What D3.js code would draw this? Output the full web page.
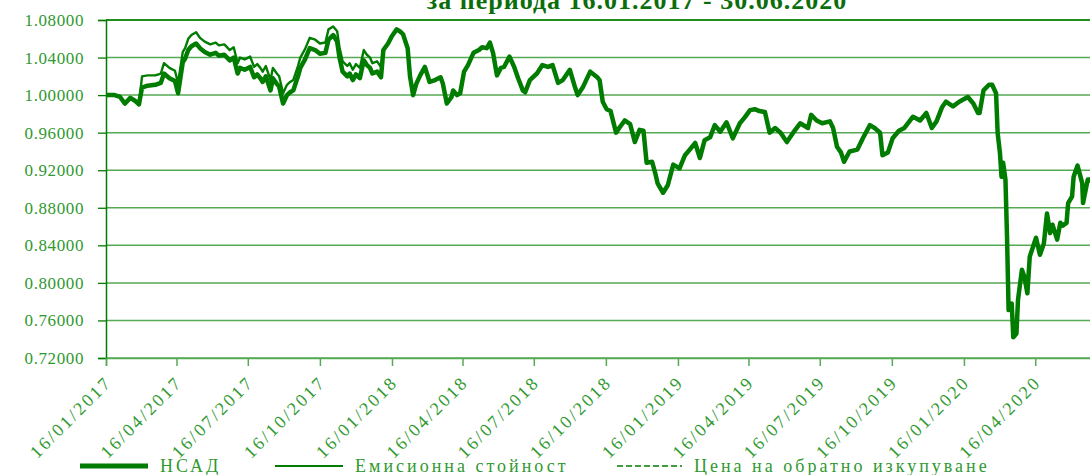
<!DOCTYPE html>
<html>
<head>
<meta charset="utf-8">
<script src="https://cdn.jsdelivr.net/npm/d3@7"></script>
<style>
body { margin: 0; background: #fff; }
svg { display: block; }
</style>
</head>
<body>
<div id="chart"></div>
<script>
// values
var dates = [
 "2017-01-16","2017-01-27","2017-02-03","2017-02-09","2017-02-16","2017-02-22","2017-02-27",
 "2017-03-03","2017-03-10","2017-03-20","2017-03-27","2017-03-31","2017-04-07","2017-04-14","2017-04-18",
 "2017-04-24","2017-04-27","2017-05-01","2017-05-05","2017-05-11","2017-05-16","2017-05-22","2017-05-29",
 "2017-06-05","2017-06-09","2017-06-16","2017-06-23","2017-06-28","2017-07-03","2017-07-06","2017-07-12",
 "2017-07-19","2017-07-24","2017-07-28","2017-08-01","2017-08-04","2017-08-08","2017-08-14","2017-08-17",
 "2017-08-22","2017-08-25","2017-08-30","2017-09-04","2017-09-08","2017-09-12","2017-09-18","2017-09-21",
 "2017-09-27","2017-10-03","2017-10-10","2017-10-16","2017-10-23","2017-10-27","2017-11-02","2017-11-07",
 "2017-11-10","2017-11-14","2017-11-20","2017-11-23","2017-11-27","2017-12-01","2017-12-06","2017-12-11",
 "2017-12-15","2017-12-19","2017-12-22","2017-12-28","2018-01-02",
 "2018-01-05","2018-01-11","2018-01-16","2018-01-22","2018-01-26","2018-01-30","2018-02-05","2018-02-08",
 "2018-02-12","2018-02-16","2018-02-21","2018-02-27","2018-03-05","2018-03-12","2018-03-19","2018-03-22",
 "2018-03-27","2018-04-02","2018-04-04","2018-04-09","2018-04-13","2018-04-18","2018-04-23","2018-04-30",
 "2018-05-07","2018-05-11","2018-05-17","2018-05-21","2018-05-25","2018-05-30","2018-06-04","2018-06-08",
 "2018-06-15","2018-06-21","2018-06-26","2018-07-02","2018-07-05","2018-07-11","2018-07-20","2018-07-27",
 "2018-08-03","2018-08-09","2018-08-16","2018-08-22","2018-08-31","2018-09-06","2018-09-10","2018-09-17",
 "2018-09-26","2018-10-05","2018-10-08","2018-10-12","2018-10-17","2018-10-22","2018-10-29","2018-11-02",
 "2018-11-09","2018-11-16","2018-11-22","2018-11-28","2018-12-03","2018-12-07","2018-12-14","2018-12-18",
 "2018-12-21","2018-12-28","2019-01-03","2019-01-10","2019-01-18","2019-01-25","2019-01-31","2019-02-07",
 "2019-02-13","2019-02-19","2019-02-26","2019-03-04","2019-03-11","2019-03-19","2019-03-27","2019-04-05",
 "2019-04-11","2019-04-18","2019-04-24","2019-04-30","2019-05-07","2019-05-13","2019-05-20","2019-05-27",
 "2019-06-04","2019-06-12","2019-06-21","2019-07-01","2019-07-05","2019-07-12","2019-07-19","2019-07-29",
 "2019-08-02","2019-08-07","2019-08-12","2019-08-16","2019-08-23","2019-09-02","2019-09-09","2019-09-18",
 "2019-09-24","2019-10-01","2019-10-04","2019-10-11","2019-10-17","2019-10-25","2019-11-01","2019-11-12",
 "2019-11-21","2019-11-29","2019-12-06","2019-12-12","2019-12-19","2019-12-24","2020-01-02","2020-01-10",
 "2020-01-21","2020-01-28","2020-02-03","2020-02-05","2020-02-10","2020-02-17","2020-02-21","2020-02-26",
 "2020-02-28","2020-03-02","2020-03-04","2020-03-06","2020-03-09","2020-03-11","2020-03-13","2020-03-17",
 "2020-03-19","2020-03-23","2020-03-25","2020-03-30","2020-04-02","2020-04-06","2020-04-09","2020-04-13",
 "2020-04-17","2020-04-22","2020-04-27","2020-05-01","2020-05-05","2020-05-08","2020-05-14","2020-05-18",
 "2020-05-21","2020-05-26","2020-05-28","2020-06-02","2020-06-04","2020-06-09","2020-06-15","2020-06-16",
 "2020-06-22","2020-06-25","2020-06-30"
];

// НСАД (net asset value per unit)
var nav = [
 1.000,1.000,0.998,0.991,0.997,0.994,0.990,
 1.008,1.010,1.011,1.013,1.023,1.018,1.015,1.002,
 1.035,1.039,1.048,1.052,1.055,1.050,1.046,1.043,
 1.045,1.042,1.043,1.037,1.040,1.023,1.029,1.027,
 1.030,1.019,1.022,1.018,1.014,1.020,1.005,1.018,
 1.012,1.009,0.991,1.000,1.003,1.005,1.020,1.029,
 1.038,1.050,1.048,1.044,1.045,1.059,1.064,1.057,
 1.040,1.025,1.020,1.023,1.016,1.022,1.018,1.037,
 1.032,1.029,1.023,1.025,1.019,
 1.048,1.055,1.063,1.070,1.068,1.065,1.050,1.020,
 1.000,1.012,1.021,1.030,1.014,1.016,1.019,1.012,
 0.991,0.998,1.005,1.000,1.002,1.025,1.032,1.045,
 1.048,1.051,1.050,1.056,1.045,1.021,1.029,1.030,
 1.041,1.030,1.018,1.005,1.003,1.016,1.023,1.032,
 1.030,1.032,1.013,1.016,1.027,1.010,1.000,1.009,
 1.025,1.019,1.016,0.993,0.985,0.983,0.960,0.965,
 0.973,0.969,0.950,0.963,0.962,0.928,0.929,0.917,
 0.906,0.896,0.904,0.926,0.922,0.936,0.942,0.949,
 0.933,0.952,0.955,0.968,0.961,0.971,0.954,0.970,
 0.976,0.984,0.985,0.983,0.982,0.960,0.965,0.960,
 0.950,0.960,0.970,0.965,0.979,0.973,0.970,0.972,
 0.965,0.945,0.939,0.929,0.940,0.942,0.954,0.968,
 0.965,0.960,0.936,0.939,0.954,0.962,0.965,0.977,
 0.973,0.981,0.965,0.972,0.987,0.993,0.988,0.993,
 0.998,0.991,0.981,0.981,1.005,1.011,1.011,1.002,
 0.960,0.938,0.913,0.928,0.910,0.849,0.771,0.778,
 0.742,0.746,0.782,0.814,0.807,0.789,0.828,0.838,
 0.848,0.830,0.842,0.874,0.853,0.862,0.846,0.864,
 0.861,0.864,0.885,0.892,0.913,0.925,0.906,0.885,
 0.910,0.910,0.905
];

// Емисионна стойност, only where it sits above НСАД (null = same as НСАД)
var issue = [
 null,null,null,null,null,null,null,
 1.020,1.021,1.021,1.023,1.034,1.029,1.026,1.013,
 1.046,1.050,1.060,1.064,1.067,1.061,1.057,1.054,
 1.056,1.053,1.054,1.048,1.051,1.034,1.040,1.038,
 1.041,1.030,1.033,1.029,1.025,1.031,1.016,1.029,
 1.023,1.020,1.002,1.011,1.014,1.016,1.031,1.040,
 1.049,1.061,1.059,1.055,1.056,1.070,1.073,1.068,
 1.051,1.036,1.031,1.034,1.027,1.033,1.029,1.048,
 1.043,1.040,1.034,1.036,1.030
];

// Цена на обратно изкупуване = НСАД over the whole period
var redemption = nav;

var seriesNames = ["НСАД", "Емисионна стойност", "Цена на обратно изкупуване"];
var yTicks = [0.72, 0.76, 0.80, 0.84, 0.88, 0.92, 0.96, 1.00, 1.04, 1.08];
var xTicks = ["2017-01-16","2017-04-16","2017-07-16","2017-10-16","2018-01-16","2018-04-16","2018-07-16",
  "2018-10-16","2019-01-16","2019-04-16","2019-07-16","2019-10-16","2020-01-16","2020-04-16"];
var period = ["2017-01-16", "2020-06-30"];
var title = "за периода 16.01.2017 - 30.06.2020";

var svgWidth = 1090;
var svgHeight = 475;
var margin = { t: 20, l: 106 };
var width = 988;
var height = 338;

var serif = "'Liberation Serif', 'Times New Roman', serif";
var green = "#007d00";
var textGreen = "#2f992f";
var gridGreen = "#56aa56";

var parse = d3.timeParse("%Y-%m-%d");

var rows = dates.map(function(d, i) {
    return {
        date: parse(d),
        nav: nav[i],
        issue: issue[i] == null ? nav[i] : issue[i],
        red: redemption[i]
    };
});

var svg = d3.select("#chart")
    .append("svg")
    .attr("width", svgWidth)
    .attr("height", svgHeight);

var chartGroup = svg.append("g")
    .attr("transform", `translate(${margin.l}, ${margin.t})`);

var x = d3.scaleTime()
    .domain(period.map(parse))
    .range([0, width]);

var y = d3.scaleLinear()
    .domain([0.72, 1.08])
    .range([height, 0]);

// gridlines
chartGroup.selectAll(".grid")
    .data(yTicks)
    .enter()
    .append("line")
    .attr("x1", 0)
    .attr("x2", width)
    .attr("y1", d => y(d))
    .attr("y2", d => y(d))
    .attr("stroke", gridGreen)
    .attr("stroke-width", 1.5);

// top border
chartGroup.append("line")
    .attr("x1", 0).attr("x2", width)
    .attr("y1", 0).attr("y2", 0)
    .attr("stroke", green)
    .attr("stroke-width", 1.5);

var leftAxis = d3.axisLeft(y)
    .tickValues(yTicks)
    .tickFormat(d3.format(".5f"))
    .tickSize(8)
    .tickPadding(14);

var yAxis = chartGroup.append("g").call(leftAxis);
yAxis.select(".domain").attr("stroke", green).attr("stroke-width", 1.5);
yAxis.selectAll(".tick line").attr("stroke", green).attr("stroke-width", 1.3);
yAxis.selectAll("text")
    .style("font-family", serif)
    .style("font-size", "17px")
    .style("letter-spacing", "0.6px")
    .attr("fill", textGreen);

var bottomAxis = d3.axisBottom(x)
    .tickValues(xTicks.map(parse))
    .tickFormat(d3.timeFormat("%d/%m/%Y"))
    .tickSize(8);

var xAxis = chartGroup.append("g")
    .attr("transform", `translate(0, ${height})`)
    .call(bottomAxis);
xAxis.select(".domain").attr("stroke", gridGreen).attr("stroke-width", 1.5);
xAxis.selectAll(".tick line").attr("stroke", gridGreen).attr("stroke-width", 1.5);
xAxis.selectAll("text")
    .style("font-family", serif)
    .style("font-size", "18px")
    .style("letter-spacing", "2.5px")
    .attr("fill", textGreen)
    .attr("text-anchor", "end")
    .attr("x", 0)
    .attr("y", 0)
    .attr("dy", "0.35em")
    .attr("transform", "translate(2, 21) rotate(-45)");

// series lines
var navLine = d3.line().x(d => x(d.date)).y(d => y(d.nav));
var issueLine = d3.line().x(d => x(d.date)).y(d => y(d.issue));
var redLine = d3.line().x(d => x(d.date)).y(d => y(d.red));

chartGroup.append("path")
    .datum(rows)
    .attr("d", navLine)
    .attr("fill", "none")
    .attr("stroke", green)
    .attr("stroke-width", 4.5)
    .attr("stroke-linejoin", "round");

chartGroup.append("path")
    .datum(rows)
    .attr("d", issueLine)
    .attr("fill", "none")
    .attr("stroke", green)
    .attr("stroke-width", 2.4)
    .attr("stroke-linejoin", "round");

chartGroup.append("path")
    .datum(rows)
    .attr("d", redLine)
    .attr("fill", "none")
    .attr("stroke", green)
    .attr("stroke-width", 1.5)
    .attr("stroke-dasharray", "6,3");

// title (cut off at the top, as in the original)
svg.append("text")
    .attr("x", 637)
    .attr("y", 9)
    .attr("text-anchor", "middle")
    .style("font-family", serif)
    .style("font-size", "26px")
    .style("font-weight", "bold")
    .style("letter-spacing", "1px")
    .attr("fill", "#0b6e0b")
    .text(title);

// legend
var legend = [
    { name: seriesNames[0], x1: 80, x2: 148, tx: 160, w: 5, dash: null },
    { name: seriesNames[1], x1: 275, x2: 343, tx: 355, w: 2, dash: null },
    { name: seriesNames[2], x1: 617, x2: 682, tx: 694, w: 1.5, dash: "6,3" }
];

var legendGroup = svg.append("g");
legend.forEach(function(l) {
    legendGroup.append("line")
        .attr("x1", l.x1).attr("x2", l.x2)
        .attr("y1", 466).attr("y2", 466)
        .attr("stroke", green)
        .attr("stroke-width", l.w)
        .attr("stroke-dasharray", l.dash);
    legendGroup.append("text")
        .attr("x", l.tx)
        .attr("y", 472)
        .style("font-family", serif)
        .style("font-size", "18px")
        .style("letter-spacing", "3px")
        .attr("fill", textGreen)
        .text(l.name);
});
</script>
</body>
</html>
